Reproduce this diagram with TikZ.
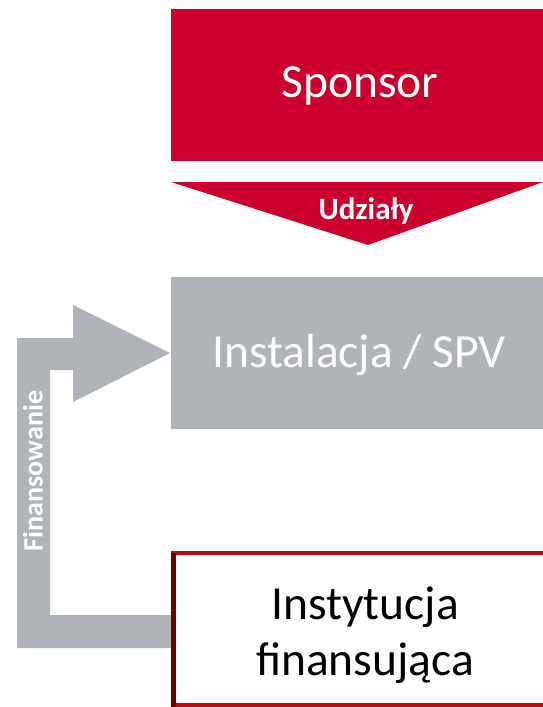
\documentclass[tikz,border=0pt]{standalone}
\usepackage{fontspec}
\setmainfont{Carlito}
\definecolor{sponsorred}{RGB}{204,0,45}
\definecolor{spvgray}{RGB}{176,180,184}
\definecolor{borderred}{RGB}{190,10,20}
\definecolor{borderdark}{RGB}{110,0,0}
\begin{document}
\begin{tikzpicture}[x=1pt,y=-1pt,
  boxtext/.style={font=\fontsize{47.5}{56}\selectfont, align=center},
  arrowtext/.style={font=\fontsize{31}{36}\selectfont\bfseries, text=white}]
\useasboundingbox (0,0) rectangle (543,707);
% Sponsor
\fill[sponsorred] (171,9) rectangle (543,161);
\node[boxtext, text=white] (sponsor) at (360,86) {Sponsor};
% Udzialy arrow
\fill[sponsorred] (171,182) -- (543,182) -- (368,245) -- cycle;
\node[arrowtext] (udzialy) at (366,211) {Udziały};
% Instalacja
\fill[spvgray] (171,277) rectangle (543,429);
\node[boxtext, text=white] (spv) at (359,355) {Instalacja / SPV};
% Financing arrow
\fill[spvgray] (17,648) -- (17,338) -- (73,338) -- (73,305) -- (170,353)
  -- (73,402) -- (73,370) -- (50,370) -- (50,615) -- (176,615) -- (176,648) -- cycle;
\node[arrowtext, rotate=90, font=\fontsize{28}{32}\selectfont\bfseries] (fin) at (33,471) {Finansowanie};
% Instytucja
\fill[borderred] (171,551) rectangle (545,708);
\fill[borderdark] (171,553) rectangle (176,707);
\fill[white] (176,555) rectangle (545,703);
\node[boxtext, text=black] (inst) at (365,635) {Instytucja\\finansująca};
\end{tikzpicture}
\end{document}
